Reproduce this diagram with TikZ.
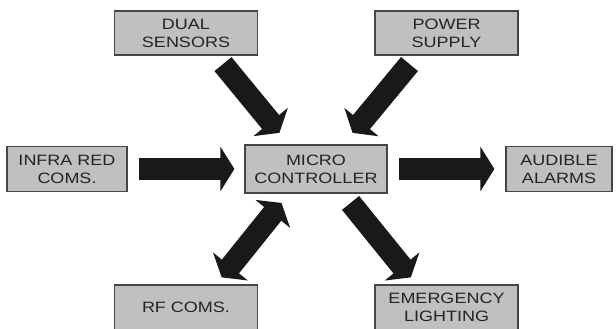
\documentclass[tikz,border=0pt]{standalone}
\usepackage{fontspec}
\setmainfont{Liberation Sans}[FakeStretch=1.2]
\usetikzlibrary{arrows.meta}

\definecolor{boxgray}{RGB}{192,192,192}
\definecolor{edgegray}{RGB}{70,70,70}
\definecolor{textgray}{RGB}{35,35,35}
\definecolor{arrowblack}{RGB}{25,25,25}

\tikzset{
  block/.style={draw=edgegray, line width=1.2pt, fill=boxgray, text=textgray,
    align=center, inner sep=0pt, minimum height=45pt,
    font=\fontsize{15}{18}\selectfont},
  bigarrow/.style={draw=arrowblack, line width=22pt,
    -{Triangle[width=44pt,length=14pt]}},
  twoarrow/.style={draw=arrowblack, line width=22pt,
    {Triangle[width=44pt,length=14pt]}-{Triangle[width=44pt,length=14pt]}},
}

\begin{document}
\begin{tikzpicture}[x=1pt,y=1pt]
  \clip (0,0) rectangle (616,329);

  % 中央のブロック
  \node[block, minimum width=142pt, minimum height=48pt] (micro) at (316,160) {MICRO\\CONTROLLER};

  % 上の二つ
  \node[block, minimum width=143pt, minimum height=44pt] (dual) at (186,296) {DUAL\\SENSORS};
  \node[block, minimum width=143pt, minimum height=44pt] (power) at (446.5,296) {POWER\\SUPPLY};

  % 左右
  \node[block, minimum width=120pt] (infra) at (67,160) {INFRA RED\\COMS.};
  \node[block, minimum width=106pt] (audible) at (559,160) {AUDIBLE\\ALARMS};

  % 下の二つ（下端は切れている）
  \node[block, minimum width=143pt] (rf) at (186,21.5) {RF COMS.};
  \node[block, minimum width=143pt] (emerg) at (446.5,21.5) {EMERGENCY\\LIGHTING};

  % 太い矢印
  \draw[bigarrow, shorten <=11pt, shorten >=15pt] ([xshift=30pt]dual.south) -- ([xshift=-27pt]micro.north);
  \draw[bigarrow, shorten <=11pt, shorten >=15pt] ([xshift=-30pt]power.south) -- ([xshift=27pt]micro.north);
  \draw[bigarrow, shorten <=11pt, shorten >=10pt] (infra) -- (micro);
  \draw[bigarrow, shorten <=11pt, shorten >=11pt] (micro) -- (audible);
  % 双方向
  \draw[twoarrow, shorten <=12pt, shorten >=9pt] ([xshift=-27pt]micro.south) -- ([xshift=30pt]rf.north);
  \draw[bigarrow, shorten <=12pt, shorten >=9pt] ([xshift=27pt]micro.south) -- ([xshift=-30pt]emerg.north);
\end{tikzpicture}
\end{document}
